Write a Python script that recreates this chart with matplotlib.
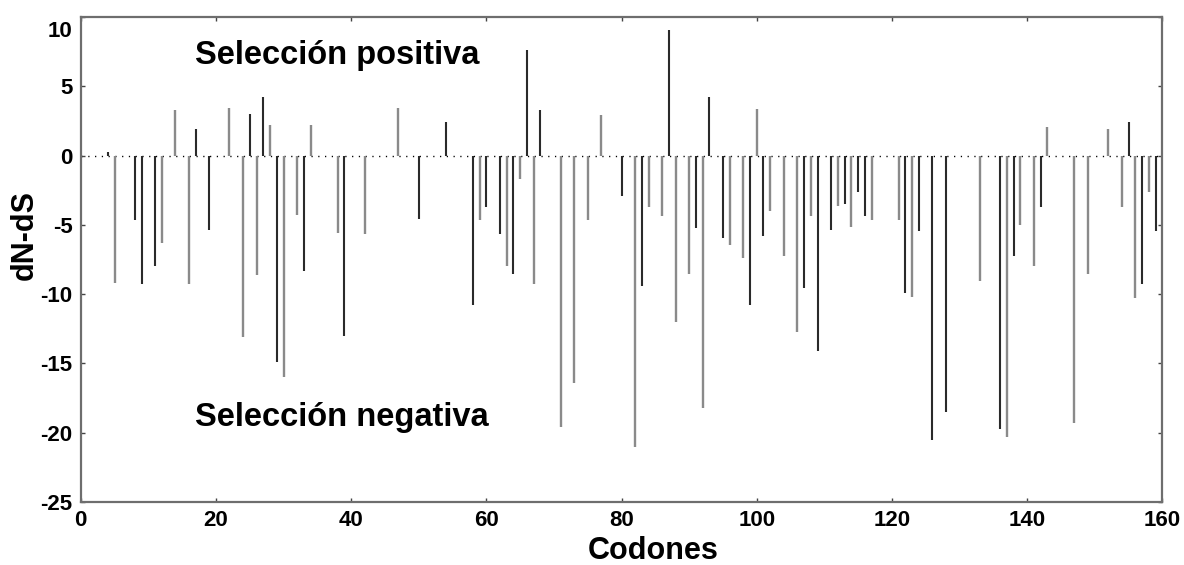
import numpy as np
import matplotlib
matplotlib.use("Agg")
import matplotlib.pyplot as plt
import matplotlib.transforms as mtransforms

plt.rcParams['font.family'] = ['Liberation Sans', 'DejaVu Sans']
plt.rcParams['font.weight'] = 'bold'
plt.rcParams['axes.unicode_minus'] = False

# dN-dS per codon, split into the two line shades of the original
codons_black = [4, 8, 9, 11, 17, 19, 25, 27, 29, 33, 39, 50, 54, 58, 60, 62, 64,
                66, 68, 80, 83, 87, 91, 93, 95, 99, 101, 107, 109, 111, 113, 115,
                116, 122, 124, 126, 128, 136, 138, 142, 155, 157, 159]
values_black = [0.27, -4.67, -9.3, -8.0, 1.93, -5.4, 3.0, 4.2, -14.9, -8.3, -13.0,
                -4.55, 2.4, -10.76, -3.7, -5.65, -8.52, 7.65, 3.32, -2.89, -9.39,
                9.05, -5.22, 4.19, -5.94, -10.8, -5.78, -9.55, -14.1, -5.39, -3.47,
                -2.62, -4.33, -9.9, -5.42, -20.5, -18.5, -19.7, -7.22, -3.7, 2.4,
                -9.3, -5.42]

codons_gray = [5, 12, 14, 16, 22, 24, 26, 28, 30, 32, 34, 38, 42, 47, 59, 63, 65,
               67, 71, 73, 75, 77, 82, 84, 86, 88, 90, 92, 96, 98, 100, 102, 104,
               106, 108, 112, 114, 117, 121, 123, 133, 137, 139, 141, 143, 147,
               149, 152, 154, 156, 158]
values_gray = [-9.2, -6.3, 3.32, -9.3, 3.42, -13.1, -8.64, 2.17, -16.0, -4.26,
               2.17, -5.58, -5.65, 3.44, -4.67, -7.94, -1.68, -9.27, -19.6, -16.4,
               -4.67, 2.96, -21.06, -3.7, -4.38, -12.03, -8.55, -18.2, -6.43,
               -7.39, 3.39, -4.02, -7.22, -12.76, -4.33, -3.66, -5.17, -4.67,
               -4.67, -10.2, -9.07, -20.3, -5.03, -8.0, 2.07, -19.3, -8.54, 1.88,
               -3.7, -10.3, -2.62]

xticks = [0, 20, 40, 60, 80, 100, 120, 140, 160]
yticks = [-25, -20, -15, -10, -5, 0, 5, 10]

fig = plt.figure(figsize=(11.84, 5.65), dpi=100)
ax = fig.add_axes([0.0682, 0.1115, 0.9135, 0.8585])

ax.axhline(0, color='black', lw=1.0, linestyle=(0, (0.9, 3.97)), zorder=1)
ax.vlines(codons_gray, 0, values_gray, color='#8a8a8a', lw=1.7, zorder=2)
ax.vlines(codons_black, 0, values_black, color='#2a2a2a', lw=1.5, zorder=3)

ax.set_xlim(0, 160)
ax.set_ylim(-25, 10)
ax.set_xticks(xticks)
ax.set_yticks(yticks)
ax.tick_params(direction='in', length=3, width=1, colors='#444444',
               labelcolor='black', labelsize=16, pad=6,
               top=True, right=True)
for lab in ax.get_xticklabels() + ax.get_yticklabels():
    lab.set_fontweight('bold')
for sp in ax.spines.values():
    sp.set_color('#6e6e6e')
    sp.set_linewidth(1.6)

# the top "10" label sits a bit below its tick in the original
for lab in ax.get_yticklabels():
    if lab.get_text() == '10':
        lab.set_transform(lab.get_transform() +
                          mtransforms.ScaledTranslation(0, -12 / 100, fig.dpi_scale_trans))

ax.set_xlabel('Codones', fontsize=22, fontweight='bold')
ax.xaxis.set_label_coords(0.529, -0.07)
ax.set_ylabel('dN-dS', fontsize=22, fontweight='bold')
ax.yaxis.set_label_coords(-0.038, 0.55)

ax.text(16.9, 6.6, 'Selección positiva', fontsize=23.5, fontweight='bold',
        va='baseline', ha='left')
ax.text(16.9, -19.5, 'Selección negativa', fontsize=23.5, fontweight='bold',
        va='baseline', ha='left')

fig.savefig('out.png', dpi=100)
